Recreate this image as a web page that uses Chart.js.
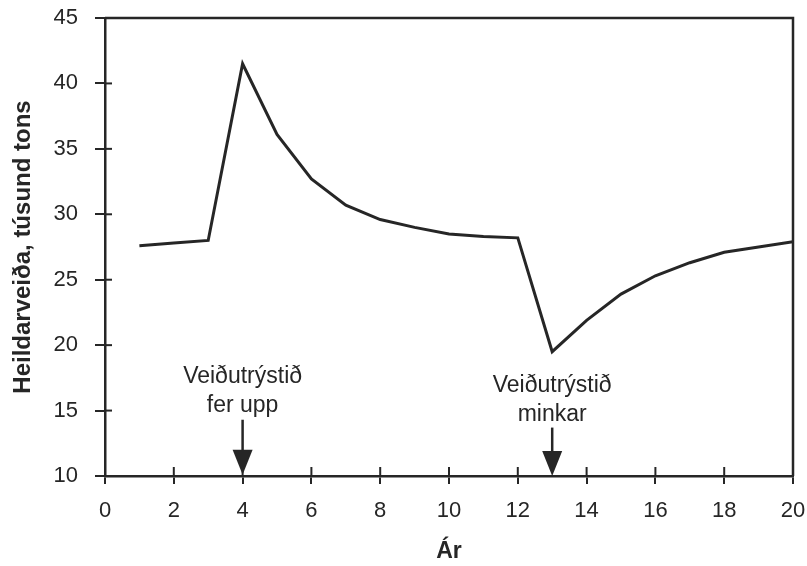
<!DOCTYPE html>
<html>
<head>
<meta charset="utf-8">
<script src="https://cdn.jsdelivr.net/npm/chart.js@4"></script>
<style>
  html, body { margin: 0; padding: 0; background: #fff; }
  #wrap { width: 807px; height: 566px; }
</style>
</head>
<body>
<div id="wrap"><canvas id="chart"></canvas></div>
<script>
// Data
const years = [1, 2, 3, 4, 5, 6, 7, 8, 9, 10, 11, 12, 13, 14, 15, 16, 17, 18, 19, 20];
const catchValues = [27.6, 27.8, 28.0, 41.5, 36.1, 32.7, 30.7, 29.6, 29.0, 28.5, 28.3, 28.2, 19.5, 21.9, 23.9, 25.3, 26.3, 27.1, 27.5, 27.9];

// Annotations: x position (year), text lines, y of each line, arrow top/tip (data units)
const noteYears = [4, 13];
const noteLines = [['Veiðutrýstið', 'fer upp'], ['Veiðutrýstið', 'minkar']];
const noteTextY = [[17.6, 15.4], [16.9, 14.7]];
const noteArrowY = [[14.3, 10.1], [13.7, 10.0]];

const ink = '#262626';
const fontFamily = '"Liberation Sans", Arial, sans-serif';

// Frame, ticks crossing the axes, and the arrow notes
const extras = {
    id: 'extras',
    afterDatasetsDraw(chart) {
        const ctx = chart.ctx;
        const area = chart.chartArea;
        const xs = chart.scales.x;
        const ys = chart.scales.y;
        ctx.save();
        ctx.strokeStyle = ink;
        ctx.lineWidth = 2.5;
        // top and right border
        ctx.beginPath();
        ctx.moveTo(area.left, area.top);
        ctx.lineTo(area.right, area.top);
        ctx.lineTo(area.right, area.bottom);
        ctx.stroke();

        // inner part of tick marks
        ctx.lineWidth = 2;
        xs.ticks.forEach(t => {
            const px = xs.getPixelForValue(t.value);
            ctx.beginPath();
            ctx.moveTo(px, area.bottom);
            ctx.lineTo(px, area.bottom - 9);
            ctx.stroke();
        });
        ys.ticks.forEach(t => {
            const py = ys.getPixelForValue(t.value);
            ctx.beginPath();
            ctx.moveTo(area.left, py);
            ctx.lineTo(area.left + 7, py);
            ctx.stroke();
        });

        // notes with arrows
        ctx.fillStyle = ink;
        ctx.font = '23px ' + fontFamily;
        ctx.textAlign = 'center';
        ctx.textBaseline = 'middle';
        noteYears.forEach((yr, i) => {
            const px = xs.getPixelForValue(yr);
            noteLines[i].forEach((line, j) => {
                ctx.fillText(line, px, ys.getPixelForValue(noteTextY[i][j]));
            });
            const top = ys.getPixelForValue(noteArrowY[i][0]);
            const tip = ys.getPixelForValue(noteArrowY[i][1]);
            ctx.lineWidth = 2.5;
            ctx.beginPath();
            ctx.moveTo(px, top);
            ctx.lineTo(px, tip - 20);
            ctx.stroke();
            ctx.beginPath();
            ctx.moveTo(px - 10, tip - 25);
            ctx.lineTo(px + 10, tip - 25);
            ctx.lineTo(px, tip);
            ctx.closePath();
            ctx.fill();
        });
        ctx.restore();
    }
};

new Chart(document.getElementById('chart'), {
    type: 'line',
    data: {
        datasets: [{
            data: years.map((yr, i) => ({ x: yr, y: catchValues[i] })),
            borderColor: ink,
            borderWidth: 3,
            pointRadius: 0,
            tension: 0,
            fill: false
        }]
    },
    options: {
        responsive: true,
        maintainAspectRatio: false,
        animation: false,
        layout: { padding: { top: 18, right: 14, left: 0, bottom: 0 } },
        plugins: {
            legend: { display: false },
            tooltip: { enabled: false }
        },
        scales: {
            x: {
                type: 'linear',
                min: 0,
                max: 20,
                afterFit: s => { s.height = 90; s.paddingLeft = 0; s.paddingRight = 0; },
                ticks: { stepSize: 2, color: ink, font: { size: 22, family: fontFamily }, padding: 14 },
                grid: { drawOnChartArea: false, tickLength: 8, color: ink, lineWidth: 2 },
                border: { color: ink, width: 2.5 },
                title: { display: true, text: 'Ár', color: ink, font: { size: 23, weight: 'bold', family: fontFamily }, padding: { top: 0, bottom: 1 } }
            },
            y: {
                min: 10,
                max: 45,
                afterFit: s => { s.width = 105; s.paddingTop = 0; s.paddingBottom = 0; },
                ticks: { stepSize: 5, color: ink, font: { size: 22, family: fontFamily }, padding: 17 },
                grid: { drawOnChartArea: false, tickLength: 10, color: ink, lineWidth: 2 },
                border: { color: ink, width: 2.5 },
                title: { display: true, text: 'Heildarveiða, túsund tons', color: ink, font: { size: 24, weight: 'bold', family: fontFamily }, padding: { top: 9, bottom: 0 } }
            }
        }
    },
    plugins: [extras]
});
</script>
</body>
</html>
